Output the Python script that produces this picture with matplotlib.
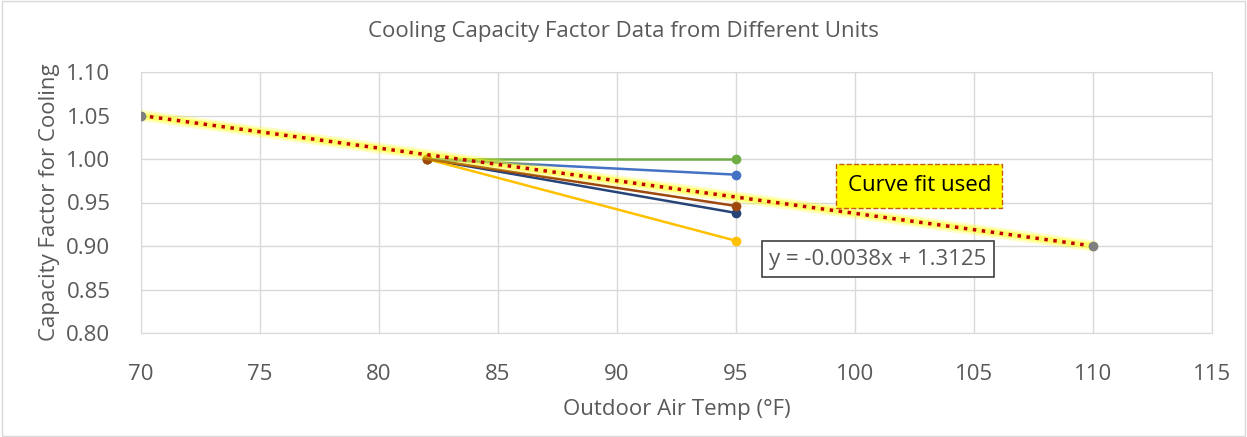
import numpy as np
import matplotlib.pyplot as plt
from matplotlib.patches import Rectangle

# data
fit_x = [70, 110]
fit_y = [1.05, 0.90]

unit_x = [82, 95]
unit_names = ['Unit A', 'Unit B', 'Unit D', 'Unit E', 'Unit C']
unit_end = [1.000, 0.982, 0.938, 0.906, 0.946]
unit_colors = ['#70ad47', '#4472c4', '#264478', '#ffc000', '#9e480e']

slope = -0.00375
intercept = 1.3125

plt.rcParams['font.family'] = ['Open Sans', 'DejaVu Sans']
gray = '#595959'
fs = 16

fig = plt.figure(figsize=(12.47, 4.37), dpi=100)
ax = fig.add_axes([141/1247, 1 - 333/437, (1212-141)/1247, (333-72)/437])

# unit curves
for name, y1, c in zip(unit_names, unit_end, unit_colors):
    ax.plot(unit_x, [1.0, y1], color=c, lw=1.8, marker='o', ms=6, label=name, zorder=3)

# linear trendline with glow
tx = np.array([70, 110])
ty = slope * tx + intercept
ax.plot(tx, ty, color='#ffff00', lw=8, alpha=0.25, solid_capstyle='round', zorder=4)
ax.plot(tx, ty, color='#ffff00', lw=4.5, alpha=0.45, solid_capstyle='round', zorder=4)
ax.plot(tx, ty, color='#c00000', lw=2.5, ls=(0, (1, 1.6)), zorder=5)

# data used for the fit
ax.plot(fit_x, fit_y, color='#7f7f7f', lw=0, marker='o', ms=6, zorder=6)

ax.set_xlim(70, 115)
ax.set_ylim(0.80, 1.10)
ax.set_xticks(np.arange(70, 116, 5))
ax.set_yticks(np.arange(0.80, 1.101, 0.05))
ax.set_yticklabels([f'{v:.2f}' for v in np.arange(0.80, 1.101, 0.05)])
ax.grid(True, color='#d9d9d9', lw=1)
ax.set_axisbelow(True)
for s in ax.spines.values():
    s.set_color('#d9d9d9')
ax.tick_params(length=0, labelsize=fs, colors=gray)
ax.tick_params(axis='x', pad=22)
ax.tick_params(axis='y', pad=22)

ax.set_xlabel('Outdoor Air Temp (°F)', fontsize=fs, color=gray)
ax.xaxis.set_label_coords(0.5, -0.252)
ax.set_ylabel('Capacity Factor for Cooling', fontsize=fs, color=gray)
ax.yaxis.set_label_coords(-0.076, 0.5)
fig.text(0.5, 1 - 31/437, 'Cooling Capacity Factor Data from Different Units',
         ha='center', va='center', fontsize=fs, color=gray)

ax.text(100.97, 0.885, 'y = -0.0038x + 1.3125', fontsize=fs, color=gray,
        ha='center', va='center',
        bbox=dict(boxstyle='square,pad=0.33', fc='white', ec='#404040', lw=1.2), zorder=7)
ax.text(102.7, 0.969, 'Curve fit used', fontsize=fs, color='black',
        ha='center', va='center',
        bbox=dict(boxstyle='square,pad=0.5', fc='#ffff00', ec='#c55a11', lw=1, ls='--'), zorder=7)

fig.patches.append(Rectangle((0.002, 0.003), 0.996, 0.994, transform=fig.transFigure,
                             fill=False, ec='#d9d9d9', lw=1))

fig.savefig('out.png', dpi=100)
